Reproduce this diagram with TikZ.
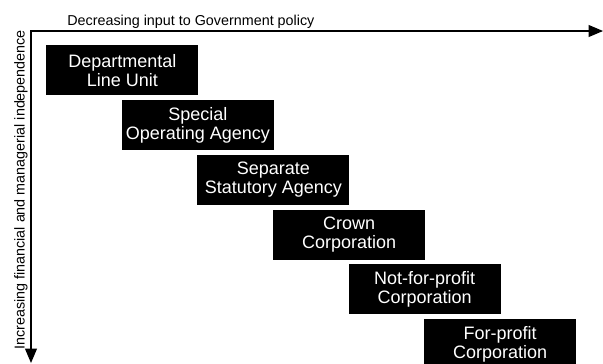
\documentclass[tikz,border=0pt]{standalone}
\usepackage{fontspec}
\setmainfont{Liberation Sans}
\usetikzlibrary{arrows,positioning}

\begin{document}
\begin{tikzpicture}[>=triangle 45, x=0.025cm, y=-0.025cm, node distance=0.105cm and -1.925cm,
    agency/.style={fill=black, text=white, align=center, minimum width=3.8cm, minimum height=1.25cm,
                   inner sep=0pt, font=\fontsize{12.8}{13.6}\selectfont},
    axislabel/.style={inner sep=0pt, font=\fontsize{10.2}{12}\selectfont}]

    \useasboundingbox (0,0) rectangle (603,363);

    % axes
    \coordinate (origin) at (31,31);
    \coordinate (xend)   at (603,31);
    \coordinate (yend)   at (31,363);
    \draw[<->, line width=1.4pt] (xend) -- (origin) -- (yend);

    \node[axislabel, anchor=base west]            (xlab) at (67,25)    {Decreasing input to Government policy};
    \node[axislabel, anchor=base west, rotate=90] (ylab) at (24.5,350) {Increasing financial and managerial independence};

    % staircase of agencies
    \node[agency, anchor=north west] (dlu)   at (46,45)         {Departmental\\Line Unit};
    \node[agency]                    (soa)   [below right=of dlu]   {Special\\Operating Agency};
    \node[agency]                    (ssa)   [below right=of soa]   {Separate\\Statutory Agency};
    \node[agency]                    (crown) [below right=of ssa]   {Crown\\Corporation};
    \node[agency]                    (npc)   [below right=of crown] {Not-for-profit\\Corporation};
    \node[agency]                    (fpc)   [below right=of npc]   {For-profit\\Corporation};

\end{tikzpicture}
\end{document}
